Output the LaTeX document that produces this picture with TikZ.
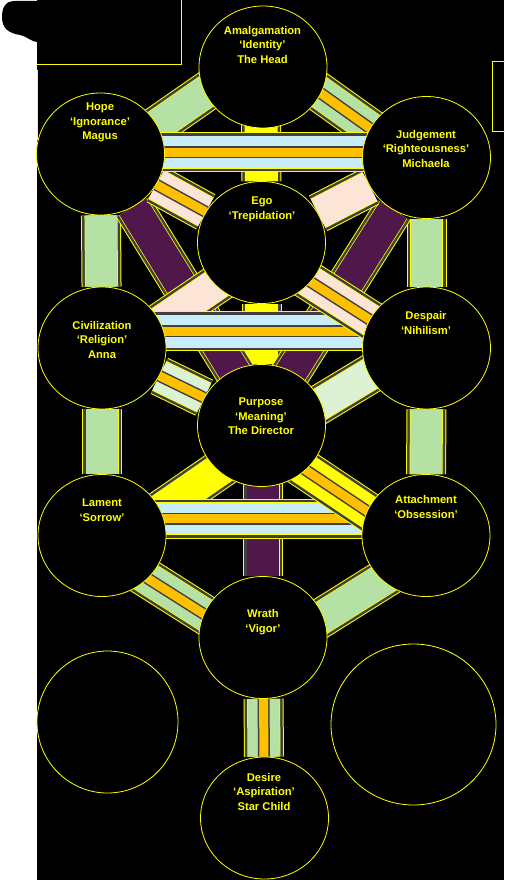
\documentclass[tikz,border=0pt]{standalone}
\usepackage{fontspec}
\setmainfont{Liberation Sans}
\usetikzlibrary{shapes.geometric,calc}
\definecolor{yel}{RGB}{255,255,0}
\definecolor{bgray}{RGB}{64,64,64}
\definecolor{lgreen}{RGB}{181,226,164}
\definecolor{pgreen}{RGB}{220,242,210}
\definecolor{lblue}{RGB}{200,236,250}
\definecolor{orng}{RGB}{255,192,0}
\definecolor{bpink}{RGB}{252,228,214}
\definecolor{bpurple}{RGB}{80,24,74}
\pgfdeclarelayer{bg}
\pgfdeclarelayer{bands}
\pgfsetlayers{bg,bands,main}
\tikzset{
  bandY/.style={line width=40pt, draw=yel},
  bandG/.style={line width=38pt, draw=bgray},
  bandI/.style={line width=33pt, draw=yel},
  stripeG/.style={line width=12pt, draw=bgray},
  circ/.style={ellipse, draw=yel, fill=black, line width=0.8pt, inner sep=0pt, minimum width=128pt, minimum height=122pt},
  lbl/.style={text=yel, font=\bfseries\fontsize{11.2}{14.5}\selectfont, align=center, inner sep=0pt},
}
\newcommand\band[3]{%
  \draw[bandY] #1 -- #2; \draw[bandG] #1 -- #2; \draw[bandI] #1 -- #2;
  \draw[line width=31.6pt, draw=#3] #1 -- #2;}
\newcommand\sband[4]{%
  \band{#1}{#2}{#3}%
  \draw[stripeG] #1 -- #2; \draw[line width=9pt, draw=#4] #1 -- #2;}
\begin{document}
\begin{tikzpicture}[x=1pt,y=-1pt]
\useasboundingbox (0,0) rectangle (504,880);
\begin{pgfonlayer}{bg}
  \fill[white] (0,0) rectangle (504,880);
  \fill[black] (37,0) rectangle (504,880);
  \fill[black] (37,1) -- (15,1) .. controls (5,1) and (2,8) .. (2,17)
     .. controls (2,28) and (8,33) .. (20,35) .. controls (28,37) and (32,42) .. (37,42) -- cycle;
  \draw[yel, line width=0.9pt] (37,64) -- (181,64) -- (181,0);
  \draw[yel, line width=0.9pt] (37,70) -- (37,140);
  \draw[yel, line width=0.9pt] (505,61) -- (492,61) -- (492,131) -- (505,131);
\end{pgfonlayer}

% sephirot
\node[circ] (amal) at (263,67) {};
\node[circ] (hope) at (100.5,154) {};
\node[circ] (judg) at (426.5,157.5) {};
\node[circ] (ego) at (261.5,242.5) {};
\node[circ] (civ) at (102,348) {};
\node[circ] (desp) at (426.5,348) {};
\node[circ] (purp) at (261.5,425.5) {};
\node[circ] (lament) at (102,535.5) {};
\node[circ] (attach) at (426,535.5) {};
\node[circ] (wrath) at (263,637.5) {};
\node[circ] (desire) at (264.5,818) {};
\node[circ, minimum width=141pt, minimum height=142pt] (bl) at (107.5,722) {};
\node[circ, minimum width=165pt, minimum height=161pt] (br) at (413.5,724.5) {};

% labels
\node[lbl] (tamal) at (262.5,44.5) {Amalgamation\\‘Identity’\\The Head};
\node[lbl] (thope) at (100,122.5) {Hope\\‘Ignorance’\\Magus};
\node[lbl] (tjudg) at (426,148.5) {Judgement\\‘Righteousness’\\Michaela};
\node[lbl] (tego) at (262,209.5) {Ego\\‘Trepidation’};
\node[lbl] (tciv) at (102,339.5) {Civilization\\‘Religion’\\Anna};
\node[lbl] (tdesp) at (426,323) {Despair\\‘Nihilism’};
\node[lbl] (tpurp) at (261,416.5) {Purpose\\‘Meaning’\\The Director};
\node[lbl] (tlament) at (102,510) {Lament\\‘Sorrow’};
\node[lbl] (tattach) at (426,507) {Attachment\\‘Obsession’};
\node[lbl] (twrath) at (263,622) {Wrath\\‘Vigor’};
\node[lbl] (tdesire) at (264,791.5) {Desire\\‘Aspiration’\\Star Child};

\begin{pgfonlayer}{bands}
  % middle columns
  \band{($(amal)+(-2,0)$)}{(ego)}{yel}
  \band{(ego)}{(purp)}{yel}
  % side columns
  \band{(hope)}{(civ)}{lgreen}
  \band{(civ)}{(lament)}{lgreen}
  \band{(judg)}{(desp)}{lgreen}
  \band{(desp)}{(attach)}{lgreen}
  \band{($(purp)+(1.5,0)$)}{(wrath)}{bpurple}
  \sband{(wrath)}{(desire)}{lgreen}{orng}
  % purple diagonals
  \band{(hope)}{($(purp)+(6,0)$)}{bpurple}
  \band{(judg)}{($(purp)+(-4,0)$)}{bpurple}
  % upper diagonals
  \band{($(hope)+(0,11)$)}{($(amal)+(0,-15)$)}{lgreen}
  \sband{($(amal)+(0,-15)$)}{($(judg)+(0,11)$)}{lgreen}{orng}
  \sband{(hope)}{(ego)}{bpink}{orng}
  \band{(judg)}{(ego)}{bpink}
  \band{($(ego)+(0,11)$)}{($(civ)+(0,14)$)}{bpink}
  \sband{(civ)}{(purp)}{pgreen}{orng}
  \band{($(desp)+(0,-8)$)}{($(purp)+(0,14)$)}{pgreen}
  \band{($(purp)+(0,15)$)}{($(lament)+(0,15)$)}{yel}
  \sband{($(lament)+(0,14)$)}{($(wrath)+(0,14)$)}{lgreen}{orng}
  \band{($(attach)+(0,17)$)}{($(wrath)+(0,17)$)}{lgreen}
  % horizontals
  \sband{($(hope)+(0,-2)$)}{($(judg)+(0,-5.5)$)}{lblue}{orng}
  \sband{($(civ)+(0,-17)$)}{($(desp)+(0,-17)$)}{lblue}{orng}
  \sband{($(lament)+(0,-17)$)}{($(attach)+(0,-17)$)}{lblue}{orng}
  % top-most diagonals
  \sband{($(ego)+(0,8)$)}{($(desp)+(0,8)$)}{bpink}{orng}
  \sband{($(purp)+(0,15)$)}{($(attach)+(0,15)$)}{yel}{orng}
\end{pgfonlayer}
\end{tikzpicture}
\end{document}
